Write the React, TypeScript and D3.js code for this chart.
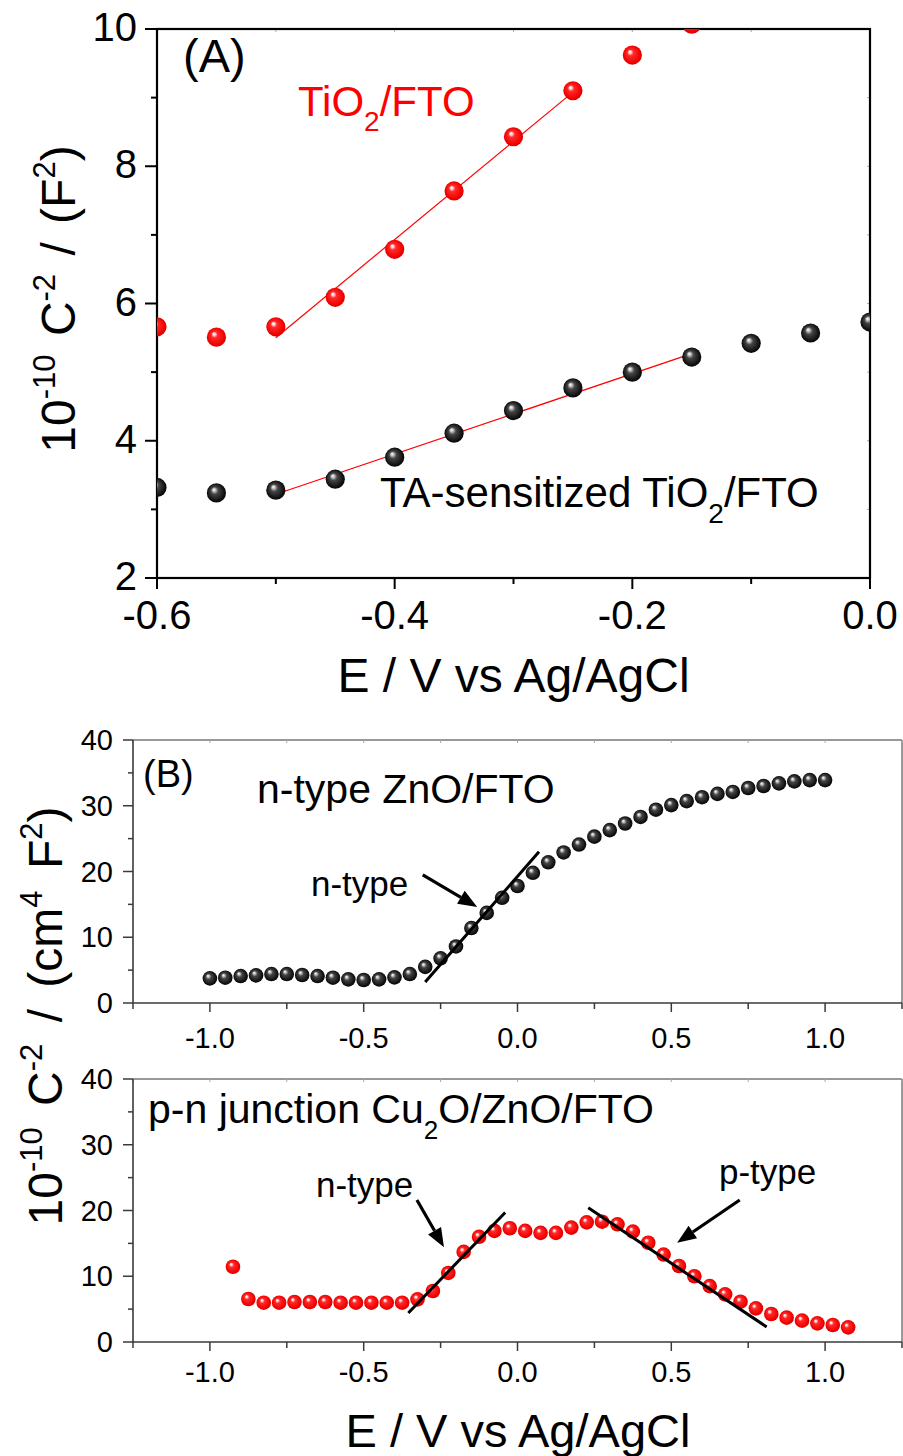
import React from 'react';
import * as d3 from 'd3';

const FONT = '"Liberation Sans", Arial, Helvetica, sans-serif';

// ---------- Panel A: TiO2 Mott-Schottky ----------
const E_A = [-0.6, -0.55, -0.5, -0.45, -0.4, -0.35, -0.3, -0.25, -0.2, -0.15, -0.1, -0.05, 0.0];
const TIO2 = [5.66, 5.51, 5.66, 6.09, 6.79, 7.64, 8.43, 9.10, 9.62, 10.07];
const TA_TIO2 = [3.32, 3.24, 3.28, 3.44, 3.76, 4.11, 4.44, 4.77, 5.0, 5.22, 5.42, 5.57, 5.73];
const TIO2_FIT = [[-0.5, 5.5], [-0.25, 9.08]];
const TA_FIT = [[-0.5, 3.22], [-0.15, 5.27]];
const A_X_MAJOR = [-0.6, -0.4, -0.2, 0.0];
const A_X_MINOR = [-0.5, -0.3, -0.1];
const A_Y_MAJOR = [2, 4, 6, 8, 10];
const A_Y_MINOR = [3, 5, 7, 9];

// ---------- Panel B: ZnO and Cu2O/ZnO ----------
const E_ZNO = [-1.0, -0.95, -0.9, -0.85, -0.8, -0.75, -0.7, -0.65, -0.6, -0.55, -0.5, -0.45, -0.4, -0.35, -0.3, -0.25, -0.2, -0.15, -0.1, -0.05, 0.0, 0.05, 0.1, 0.15, 0.2, 0.25, 0.3, 0.35, 0.4, 0.45, 0.5, 0.55, 0.6, 0.65, 0.7, 0.75, 0.8, 0.85, 0.9, 0.95, 1.0];
const ZNO = [3.75, 3.85, 4.1, 4.2, 4.4, 4.4, 4.26, 4.1, 3.85, 3.6, 3.5, 3.6, 3.9, 4.4, 5.5, 6.8, 8.6, 11.4, 13.7, 16.0, 17.8, 19.8, 21.4, 22.9, 24.1, 25.3, 26.3, 27.3, 28.3, 29.4, 30.1, 30.7, 31.3, 31.8, 32.1, 32.7, 33.0, 33.4, 33.7, 33.9, 33.9];
const ZNO_FIT = [[-0.3, 3.2], [0.07, 23.0]];
const ZNO_ARROW = [[-0.308, 19.5], [-0.131, 14.6]];

const E_CU = [-0.925, -0.875, -0.825, -0.775, -0.725, -0.675, -0.625, -0.575, -0.525, -0.475, -0.425, -0.375, -0.325, -0.275, -0.225, -0.175, -0.125, -0.075, -0.025, 0.025, 0.075, 0.125, 0.175, 0.225, 0.275, 0.325, 0.375, 0.425, 0.475, 0.525, 0.575, 0.625, 0.675, 0.725, 0.775, 0.825, 0.875, 0.925, 0.975, 1.025, 1.075];
const CU = [11.45, 6.54, 5.98, 5.98, 6.08, 6.08, 6.08, 5.98, 5.98, 5.98, 5.98, 5.98, 6.49, 7.76, 10.5, 13.7, 16.0, 16.9, 17.3, 16.9, 16.6, 16.6, 17.4, 18.2, 18.3, 17.9, 16.8, 15.1, 13.3, 11.56, 10.0, 8.5, 7.25, 6.13, 5.12, 4.26, 3.7, 3.25, 2.84, 2.59, 2.23];
const CU_N_FIT = [[-0.355, 4.4], [-0.04, 19.7]];
const CU_P_FIT = [[0.23, 20.4], [0.81, 2.3]];
const CU_N_ARROW = [[-0.327, 21.6], [-0.239, 14.4]];
const CU_P_ARROW = [[0.7225, 21.6], [0.519, 15.1]];

const B_X_TICKS = [-1.25, -1.0, -0.75, -0.5, -0.25, 0.0, 0.25, 0.5, 0.75, 1.0, 1.25];
const B_X_LABELS = [-1.0, -0.5, 0.0, 0.5, 1.0];
const B_Y_MAJOR = [0, 10, 20, 30, 40];
const B_Y_MINOR = [5, 15, 25, 35];

// ---------- scales ----------
const xA = d3.scaleLinear().domain([-0.6, 0.0]).range([157, 870]);
const yA = d3.scaleLinear().domain([2, 10]).range([578, 29]);
const xB = d3.scaleLinear().domain([-1.25, 1.25]).range([133, 902]);
const yB1 = d3.scaleLinear().domain([0, 40]).range([1003, 740]);
const yB2 = d3.scaleLinear().domain([0, 40]).range([1342, 1079]);

// tick labels use a plain hyphen for negatives
const fmt1 = (v: number) => d3.format('.1f')(v).replace('\u2212', '-');

const line = (x, y) => d3.line<number[]>().x((d) => x(d[0])).y((d) => y(d[1]));

function Arrow({ pts, x, y }) {
  const x0 = x(pts[0][0]), y0 = y(pts[0][1]);
  const x1 = x(pts[1][0]), y1 = y(pts[1][1]);
  const ang = Math.atan2(y1 - y0, x1 - x0);
  const L = 19, W = 7.5;
  const bx = x1 - L * Math.cos(ang), by = y1 - L * Math.sin(ang);
  const nx = -Math.sin(ang), ny = Math.cos(ang);
  const head = `M${x1},${y1}L${bx + W * nx},${by + W * ny}L${bx - W * nx},${by - W * ny}Z`;
  return (
    <g>
      <line x1={x0} y1={y0} x2={bx} y2={by} stroke="#000" strokeWidth={3.2} />
      <path d={head} fill="#000" />
    </g>
  );
}

function Spheres({ xs, ys, x, y, r, fill, clip }) {
  return (
    <g clipPath={clip}>
      {ys.map((v, i) => (
        <circle key={i} cx={x(xs[i])} cy={y(v)} r={r} fill={fill} />
      ))}
    </g>
  );
}

function PanelBAxes({ y, tickLabelBaseline }) {
  const [y0, y1] = y.range();
  const left = xB.range()[0], right = xB.range()[1];
  const ax = '#3a3a3a';
  return (
    <g>
      <line x1={left} y1={y1} x2={right} y2={y1} stroke="#777" strokeWidth={1.5} />
      <line x1={right} y1={y1} x2={right} y2={y0} stroke="#777" strokeWidth={1.5} />
      {B_X_TICKS.map((t) => (
        <line key={'tt' + t} x1={xB(t)} x2={xB(t)} y1={y1} y2={y1 + 3} stroke="#aaa" strokeWidth={1} />
      ))}
      <line x1={left} y1={y0} x2={right} y2={y0} stroke={ax} strokeWidth={1.6} />
      <line x1={left} y1={y1} x2={left} y2={y0} stroke={ax} strokeWidth={1.6} />
      {B_X_TICKS.map((t) => {
        const major = Math.abs((t * 2) % 1) < 1e-9;
        return <line key={'xt' + t} x1={xB(t)} x2={xB(t)} y1={y0} y2={y0 + (major ? 9 : 6)} stroke={ax} strokeWidth={1.5} />;
      })}
      {B_Y_MAJOR.map((t) => (
        <line key={'ym' + t} x1={left - 10} x2={left} y1={y(t)} y2={y(t)} stroke={ax} strokeWidth={1.5} />
      ))}
      {B_Y_MINOR.map((t) => (
        <line key={'yn' + t} x1={left - 5} x2={left} y1={y(t)} y2={y(t)} stroke={ax} strokeWidth={1.5} />
      ))}
      {B_X_LABELS.map((t) => (
        <text key={'xl' + t} x={xB(t)} y={tickLabelBaseline} textAnchor="middle" fontSize={29}>
          {fmt1(t)}
        </text>
      ))}
      {B_Y_MAJOR.map((t) => (
        <text key={'yl' + t} x={113} y={y(t) + 10} textAnchor="end" fontSize={29}>
          {t}
        </text>
      ))}
    </g>
  );
}

export default function App() {
  const lA = line(xA, yA);
  const lB1 = line(xB, yB1);
  const lB2 = line(xB, yB2);
  return (
    <svg
      width={903}
      height={1456}
      style={{ position: 'absolute', left: 0, top: 0, background: '#fff' }}
      fontFamily={FONT}
    >
      <defs>
        <radialGradient id="sphRed" cx="0.5" cy="0.5" r="0.55" fx="0.36" fy="0.32">
          <stop offset="0" stopColor="#ffffff" />
          <stop offset="0.12" stopColor="#ffd6d6" />
          <stop offset="0.3" stopColor="#ff2a2a" />
          <stop offset="0.8" stopColor="#f20000" />
          <stop offset="1" stopColor="#c80000" />
        </radialGradient>
        <radialGradient id="sphBlack" cx="0.5" cy="0.5" r="0.55" fx="0.36" fy="0.32">
          <stop offset="0" stopColor="#ffffff" />
          <stop offset="0.12" stopColor="#d0d0d0" />
          <stop offset="0.35" stopColor="#454545" />
          <stop offset="0.8" stopColor="#111111" />
          <stop offset="1" stopColor="#000000" />
        </radialGradient>
        <clipPath id="clipA">
          <rect x={157} y={29} width={713} height={549} />
        </clipPath>
      </defs>

      {/* ---------------- Panel A ---------------- */}
      <g>
        {d3.range(-0.6, 0.001, 0.1).map((t) => (
          <line key={'at' + t} x1={xA(t)} x2={xA(t)} y1={29} y2={32} stroke="#aaa" strokeWidth={1} />
        ))}
        {d3.range(3, 10, 1).map((t) => (
          <line key={'ar' + t} x1={867} x2={870} y1={yA(t)} y2={yA(t)} stroke="#aaa" strokeWidth={1} />
        ))}
        <rect x={157} y={29} width={713} height={549} fill="none" stroke="#000" strokeWidth={2.2} />
        {A_X_MAJOR.map((t) => (
          <line key={'axm' + t} x1={xA(t)} x2={xA(t)} y1={578} y2={589} stroke="#000" strokeWidth={2} />
        ))}
        {A_X_MINOR.map((t) => (
          <line key={'axn' + t} x1={xA(t)} x2={xA(t)} y1={578} y2={584} stroke="#000" strokeWidth={2} />
        ))}
        {A_Y_MAJOR.map((t) => (
          <line key={'aym' + t} x1={145} x2={157} y1={yA(t)} y2={yA(t)} stroke="#000" strokeWidth={2} />
        ))}
        {A_Y_MINOR.map((t) => (
          <line key={'ayn' + t} x1={151} x2={157} y1={yA(t)} y2={yA(t)} stroke="#000" strokeWidth={2} />
        ))}
        {A_X_MAJOR.map((t) => (
          <text key={'axl' + t} x={xA(t)} y={629} textAnchor="middle" fontSize={40}>
            {fmt1(t)}
          </text>
        ))}
        {A_Y_MAJOR.map((t) => (
          <text key={'ayl' + t} x={137} y={yA(t) + 12} textAnchor="end" fontSize={40}>
            {t}
          </text>
        ))}

        <path d={lA(TIO2_FIT) || ''} stroke="#ff0000" strokeWidth={1.2} fill="none" />
        <path d={lA(TA_FIT) || ''} stroke="#ff0000" strokeWidth={1.2} fill="none" />
        <Spheres xs={E_A} ys={TIO2} x={xA} y={yA} r={9.6} fill="url(#sphRed)" clip="url(#clipA)" />
        <Spheres xs={E_A} ys={TA_TIO2} x={xA} y={yA} r={9.6} fill="url(#sphBlack)" clip="url(#clipA)" />

        <text x={183} y={72} fontSize={47}>(A)</text>
        <text x={298} y={116} fontSize={42} fill="#ff0000">
          TiO<tspan dy={15} fontSize={28}>2</tspan><tspan dy={-15}>/FTO</tspan>
        </text>
        <text x={380} y={507} fontSize={42}>
          TA-sensitized TiO<tspan dy={16} fontSize={28}>2</tspan><tspan dy={-16}>/FTO</tspan>
        </text>

        <text x={513.5} y={692} textAnchor="middle" fontSize={48}>E / V vs Ag/AgCl</text>
        <text transform="translate(75,299) rotate(-90)" textAnchor="middle" fontSize={48} wordSpacing={5}>
          10<tspan dy={-20} fontSize={31}>-10</tspan>
          <tspan dy={20}> C</tspan>
          <tspan dy={-20} fontSize={31}>-2</tspan>
          <tspan dy={20}> / (F</tspan>
          <tspan dy={-20} fontSize={31}>2</tspan>
          <tspan dy={20}>)</tspan>
        </text>
      </g>

      {/* ---------------- Panel B (top) ---------------- */}
      <PanelBAxes y={yB1} tickLabelBaseline={1048} />
      <Spheres xs={E_ZNO} ys={ZNO} x={xB} y={yB1} r={7.3} fill="url(#sphBlack)" clip={undefined} />
      <path d={lB1(ZNO_FIT) || ''} stroke="#000" strokeWidth={3} fill="none" />
      <Arrow pts={ZNO_ARROW} x={xB} y={yB1} />
      <text x={143} y={787} fontSize={38}>(B)</text>
      <text x={257} y={803} fontSize={41}>n-type ZnO/FTO</text>
      <text x={311} y={896} fontSize={35}>n-type</text>

      {/* ---------------- Panel B (bottom) ---------------- */}
      <PanelBAxes y={yB2} tickLabelBaseline={1382} />
      <Spheres xs={E_CU} ys={CU} x={xB} y={yB2} r={7.3} fill="url(#sphRed)" clip={undefined} />
      <path d={lB2(CU_N_FIT) || ''} stroke="#000" strokeWidth={3} fill="none" />
      <path d={lB2(CU_P_FIT) || ''} stroke="#000" strokeWidth={3} fill="none" />
      <Arrow pts={CU_N_ARROW} x={xB} y={yB2} />
      <Arrow pts={CU_P_ARROW} x={xB} y={yB2} />
      <text x={148} y={1123} fontSize={41}>
        p-n junction Cu<tspan dy={16} fontSize={26}>2</tspan><tspan dy={-16}>O/ZnO/FTO</tspan>
      </text>
      <text x={316} y={1197} fontSize={35}>n-type</text>
      <text x={719} y={1184} fontSize={35}>p-type</text>

      <text x={518} y={1447} textAnchor="middle" fontSize={47}>E / V vs Ag/AgCl</text>
      <text transform="translate(62,1016) rotate(-90)" textAnchor="middle" fontSize={48} wordSpacing={8}>
        10<tspan dy={-20} fontSize={31}>-10</tspan>
        <tspan dy={20}> C</tspan>
        <tspan dy={-20} fontSize={31}>-2</tspan>
        <tspan dy={20}> / (cm</tspan>
        <tspan dy={-20} fontSize={31}>4</tspan>
        <tspan dy={20}> F</tspan>
        <tspan dy={-20} fontSize={31}>2</tspan>
        <tspan dy={20}>)</tspan>
      </text>
    </svg>
  );
}
